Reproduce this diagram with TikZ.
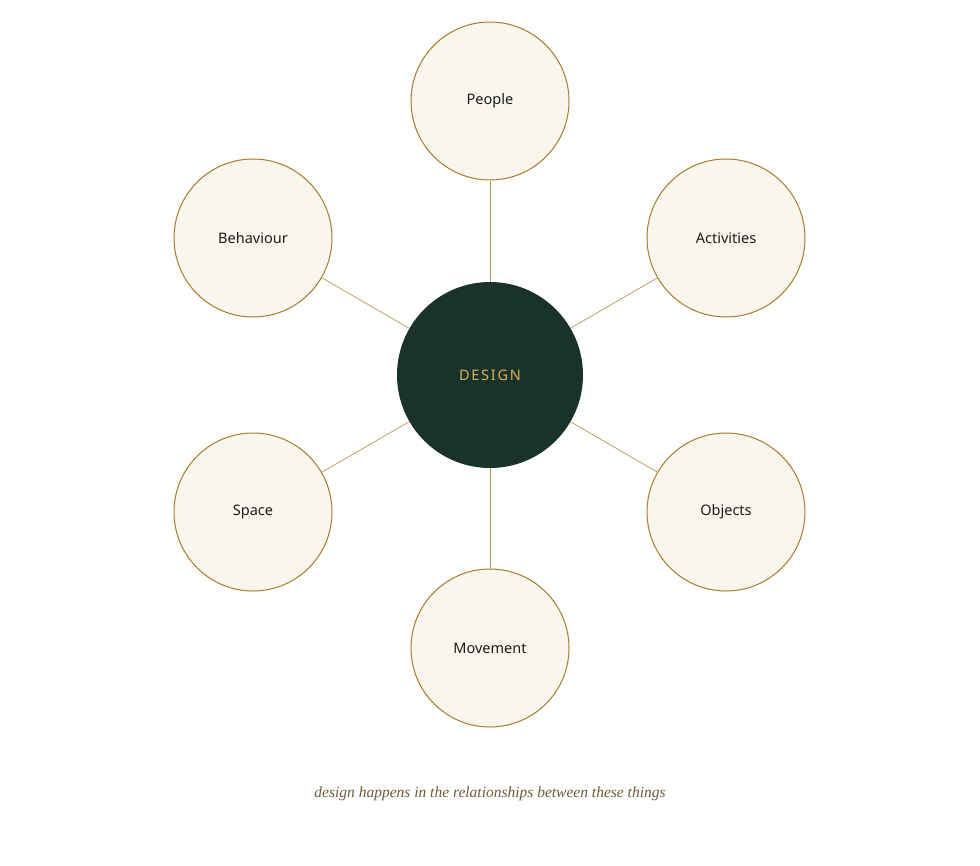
\documentclass[tikz,border=0pt]{standalone}
\usepackage{fontspec}
\setmainfont{Noto Sans}
\newfontfamily\capfont{Liberation Serif}
\definecolor{ring}{HTML}{A87B2A}
\definecolor{fillc}{HTML}{F9F6EE}
\definecolor{dark}{HTML}{19322B}
\definecolor{gold}{HTML}{E0B050}
\definecolor{capc}{HTML}{6E5A38}
\definecolor{txt}{HTML}{1A1A1A}
\begin{document}
\begin{tikzpicture}[x=1pt,y=-1pt,
  sat/.style={circle,draw=ring,line width=1pt,fill=fillc,minimum size=158pt,inner sep=0pt,font=\fontsize{14.5}{16}\selectfont,text=txt},
  link/.style={draw=ring!80,line width=0.7pt}]
\useasboundingbox (0,0) rectangle (980,865);
\node[circle,fill=dark,minimum size=186pt,inner sep=0pt,text=gold,font=\fontsize{14.5}{16}\selectfont\addfontfeature{LetterSpace=12}] (c) at (490,375) {DESIGN};
\node[sat] (p) at (490,101) {People};
\node[sat] (a) at (726,238) {Activities};
\node[sat] (o) at (726,512) {Objects};
\node[sat] (m) at (490,648) {Movement};
\node[sat] (s) at (253,512) {Space};
\node[sat] (b) at (253,238) {Behaviour};
\foreach \n in {p,a,o,m,s,b} \draw[link] (c) -- (\n);
\node[font=\capfont\itshape\fontsize{15.5}{18}\selectfont,text=capc] (cap) at (490,794) {design happens in the relationships between these things};
\end{tikzpicture}
\end{document}
